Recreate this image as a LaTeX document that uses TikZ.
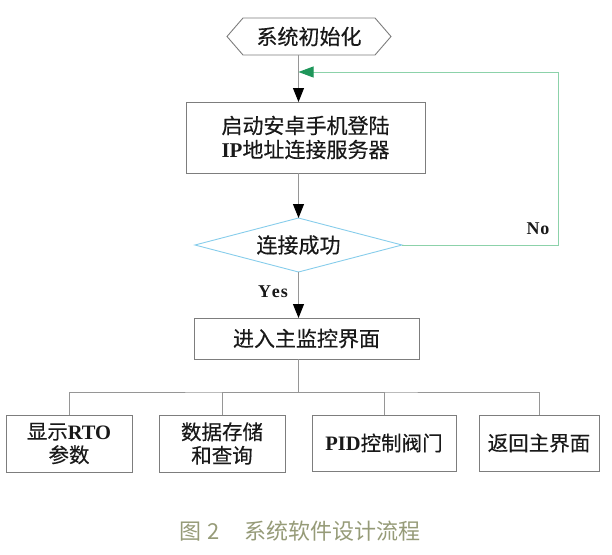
\documentclass[tikz,border=0pt]{standalone}
\usepackage{fontspec}
\setmainfont{Noto Sans CJK SC}[UprightFeatures={FakeBold=0.4}]
\newfontfamily\capfont{Noto Sans CJK SC}
\newfontfamily\lat{Liberation Serif}
\usetikzlibrary{arrows.meta,shapes.geometric,calc}
\definecolor{boxgray}{RGB}{125,125,125}
\definecolor{linegray}{RGB}{150,150,150}
\definecolor{diablue}{RGB}{135,205,235}
\definecolor{loopgreen}{RGB}{140,210,170}
\definecolor{tipgreen}{RGB}{30,150,90}
\definecolor{capcol}{RGB}{150,155,120}
\newcommand{\La}[1]{{\lat\bfseries #1}}
\begin{document}
\begin{tikzpicture}[x=1pt,y=-1pt,
  every node/.style={inner sep=0pt, outer sep=0pt, align=center, text=black!90,
    font=\fontsize{21}{24}\selectfont},
  procbox/.style={draw=boxgray, line width=0.9pt, rectangle},
  smallbox/.style={procbox, font=\fontsize{20.5}{23.5}\selectfont},
  conn/.style={draw=linegray, line width=0.9pt},
  arr/.style={conn, -{Triangle[length=14pt,width=11pt,color=black]}},
  backarr/.style={draw=loopgreen, line width=0.9pt, -{Triangle[length=15pt,width=11pt,color=tipgreen]}},
  lbl/.style={font=\fontsize{18}{20}\selectfont\lat\bfseries},
]
\useasboundingbox (0,0) rectangle (612,554);
% start hexagon
\node (start) [minimum width=132pt, minimum height=37pt] at (309,36.5) {系统初始化};
\draw[boxgray, line width=0.9pt] (start.north west) -- (start.north east) -- ($(start.east)+(16,0)$)
  -- (start.south east) -- (start.south west) -- ($(start.west)+(-16,0)$) -- cycle;
% main nodes
\node (box1) [procbox, minimum width=239pt, minimum height=71pt] at (305.5,137.5)
  {启动安卓手机登陆\\\La{IP}地址连接服务器};
\node (dia) [diamond, aspect=3.83, draw=diablue, line width=0.9pt, minimum width=207pt, minimum height=54pt]
  at (298.5,245) {连接成功};
\node (box2) [procbox, minimum width=225pt, minimum height=41pt] at (306.5,338.5) {进入主监控界面};
% bottom row
\node (A) [smallbox, minimum width=126pt, minimum height=57pt] at (69,443.5) {显示\La{RTO}\\参数};
\node (B) [smallbox, minimum width=126pt, minimum height=57pt] at (222,443.5) {数据存储\\和查询};
\node (C) [smallbox, minimum width=144pt, minimum height=56pt] at (384,443) {\La{PID}控制阀门};
\node (D) [smallbox, minimum width=120pt, minimum height=56pt] at (539,443) {返回主界面};
% labels
\node (yes) [lbl] at (273,292) {Y\kern1pt e\kern1pt s};
\node (no) [lbl] at (538,229) {N\kern1pt o};
% caption
\node (cap) [text=capcol, font=\fontsize{22}{24}\selectfont\capfont] at (300,531)
  {图\hspace{6pt}2\hspace{24pt}系统软件设计流程};
% coordinates
\coordinate (bus) at (298.5,392);
\coordinate (corner) at (558,72);
\coordinate (ret) at (298.5,72);
% connectors
\draw[arr] (start.south -| dia.north) -- (box1.north -| dia.north);
\draw[arr] (box1.south -| dia.north) -- (dia.north);
\draw[arr] (dia.south) -- (box2.north -| dia.south);
\draw[conn] (box2.south -| dia.south) -- (bus);
\draw[conn] (A.north) |- (bus) -| (D.north);
\draw[conn] (B.north) |- (bus);
\draw[conn] (C.north) |- (bus);
\draw[backarr] (dia.east) -| (corner) -- (ret);
\end{tikzpicture}
\end{document}
